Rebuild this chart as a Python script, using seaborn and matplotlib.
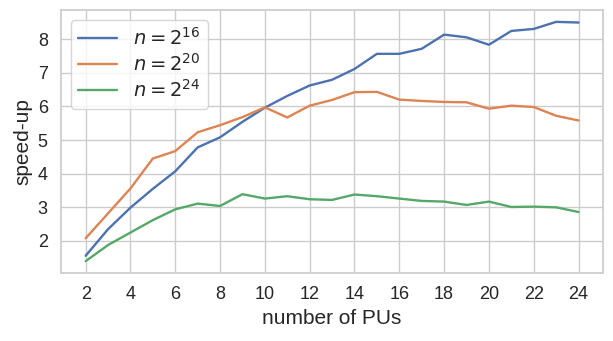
import numpy as np
import pandas as pd
import seaborn as sns
import matplotlib.pyplot as plt

pus = list(range(2, 25))

speedup_2_16 = [1.56, 2.35, 2.99, 3.55, 4.07, 4.78, 5.08, 5.54, 5.96, 6.31, 6.62, 6.79,
                7.11, 7.56, 7.56, 7.71, 8.13, 8.05, 7.83, 8.24, 8.30, 8.51, 8.49]
speedup_2_20 = [2.08, 2.82, 3.56, 4.45, 4.67, 5.23, 5.44, 5.68, 5.97, 5.67, 6.02, 6.19,
                6.42, 6.43, 6.20, 6.16, 6.13, 6.12, 5.93, 6.02, 5.98, 5.72, 5.58]
speedup_2_24 = [1.40, 1.88, 2.25, 2.62, 2.94, 3.11, 3.04, 3.39, 3.26, 3.33, 3.24, 3.22,
                3.38, 3.33, 3.26, 3.19, 3.17, 3.07, 3.17, 3.01, 3.02, 3.00, 2.86]

labels = [r"$n=2^{16}$", r"$n=2^{20}$", r"$n=2^{24}$"]

df = pd.DataFrame({
    "pus": pus * 3,
    "speedup": speedup_2_16 + speedup_2_20 + speedup_2_24,
    "size": [labels[0]] * len(pus) + [labels[1]] * len(pus) + [labels[2]] * len(pus),
})

sns.set_theme(style="whitegrid")
plt.rcParams["font.family"] = ["Liberation Sans", "DejaVu Sans"]

fig, ax = plt.subplots(figsize=(6.13, 3.41), dpi=100)
sns.lineplot(data=df, x="pus", y="speedup", hue="size", palette="deep", linewidth=1.7, ax=ax)

ax.set_xticks(range(2, 25, 2))
ax.set_yticks(range(2, 9))
ax.tick_params(labelsize=13)
ax.set_xlabel("number of PUs", fontsize=15)
ax.set_ylabel("speed-up", fontsize=15)
ax.legend(loc="upper left", fontsize=14, title=None, labelspacing=0.2)

fig.subplots_adjust(left=0.0995, right=0.984, top=0.971, bottom=0.199)
fig.savefig("out.png", dpi=100)
plt.close()
